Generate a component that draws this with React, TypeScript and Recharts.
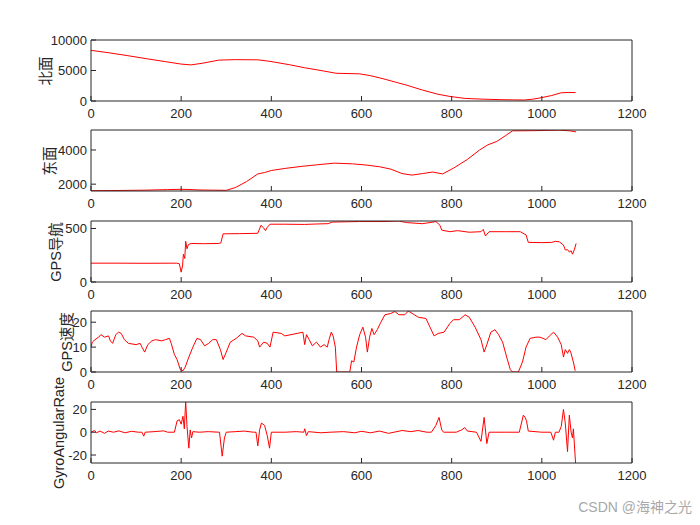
import React from 'react';
import { LineChart, Line, XAxis, YAxis } from 'recharts';

// time axis shared by all panels
const timeTicks = [0, 200, 400, 600, 800, 1000, 1200];

// [time, value] samples
const northSeries = [
  [0, 8300], [40, 7900], [80, 7450], [126, 6900], [165, 6450], [200, 6050], [222, 5920],
  [248, 6200], [283, 6700], [320, 6780], [370, 6750], [397, 6500], [440, 5950], [474, 5450],
  [510, 5000], [543, 4550], [596, 4450], [620, 4150], [648, 3650], [675, 3100], [700, 2600],
  [735, 1800], [770, 1100], [796, 750], [830, 420], [870, 300], [909, 220], [940, 180],
  [961, 160], [980, 300], [996, 500], [1022, 900], [1043, 1350], [1060, 1400], [1075, 1380],
];

const eastSeries = [
  [0, 1620], [60, 1630], [120, 1650], [170, 1680], [200, 1700], [215, 1690], [240, 1660],
  [270, 1650], [300, 1640], [320, 1800], [345, 2150], [370, 2600], [385, 2680], [400, 2800],
  [430, 2920], [470, 3050], [500, 3130], [540, 3230], [580, 3190], [610, 3120], [640, 3020],
  [665, 2880], [690, 2620], [712, 2530], [735, 2620], [758, 2710], [780, 2600], [805, 2950],
  [835, 3450], [862, 4000], [880, 4300], [900, 4500], [920, 4850], [935, 5120], [980, 5130],
  [1040, 5160], [1062, 5120], [1076, 5060],
];

const headingSeries = [
  [0, 176], [60, 176], [120, 175], [190, 176], [196, 170], [200, 92], [203, 150], [205, 260],
  [208, 220], [210, 380], [213, 310], [216, 350], [222, 360], [250, 358], [283, 360], [288, 365],
  [293, 450], [330, 452], [370, 455], [377, 530], [383, 505], [387, 480], [391, 510], [397, 540],
  [430, 540], [474, 538], [500, 542], [526, 545], [535, 560], [596, 565], [648, 565], [683, 570],
  [700, 555], [735, 545], [752, 555], [765, 565], [774, 530], [778, 485], [796, 470], [813, 480],
  [839, 465], [865, 470], [870, 492], [875, 430], [883, 470], [920, 470], [952, 470], [965, 440],
  [970, 370], [1000, 368], [1022, 370], [1030, 380], [1039, 375], [1048, 345], [1052, 300],
  [1057, 302], [1061, 280], [1065, 292], [1068, 260], [1072, 300], [1076, 360],
];

const speedSeries = [
  [0, 10], [3, 12], [9, 13], [17, 14], [22, 15], [30, 14], [39, 14.5], [43, 12.5], [48, 11.5],
  [55, 15], [61, 16], [67, 15.5], [74, 13], [83, 11.5], [100, 11], [109, 11.5], [113, 10],
  [119, 8], [126, 11], [135, 12.5], [143, 13], [157, 12.5], [165, 13], [174, 13.5], [178, 11.5],
  [185, 7], [191, 5], [198, 1], [204, 0.5], [209, 2], [217, 6], [226, 10], [235, 13.5],
  [243, 13], [252, 10.5], [261, 11.5], [270, 13], [278, 13], [287, 9], [293, 5], [300, 8],
  [309, 12], [322, 13.5], [335, 15.5], [343, 14.5], [361, 14], [370, 12.5], [374, 10], [383, 12],
  [391, 11.5], [397, 10], [404, 16], [422, 15.5], [430, 14.5], [457, 15.5], [470, 16], [474, 11],
  [478, 15], [484, 13], [491, 10.5], [500, 12], [509, 10], [517, 11], [524, 10], [528, 13],
  [533, 16], [537, 14.5], [542, 10], [545, 0], [574, 0], [578, 4.5], [583, 4], [589, 10],
  [596, 15], [603, 18], [609, 14], [613, 8], [618, 14], [623, 17.5], [628, 15], [635, 17],
  [643, 20], [652, 23], [665, 23.5], [674, 24.3], [683, 23], [696, 23], [704, 24.5], [717, 23],
  [726, 22], [743, 21.5], [752, 18], [761, 14.5], [770, 15.5], [783, 16], [796, 19.5], [804, 21],
  [817, 21], [830, 23], [839, 22], [852, 18], [865, 13], [872, 8], [878, 11], [887, 16],
  [896, 17], [904, 15], [913, 12], [922, 6], [930, 1], [935, 0], [948, 0], [957, 4], [965, 10],
  [974, 13.5], [987, 14], [996, 14], [1009, 13], [1017, 14.5], [1026, 16], [1035, 14],
  [1043, 11], [1048, 6], [1052, 9], [1057, 7.5], [1061, 9], [1064, 8], [1070, 4], [1074, 0.5],
];

const gyroSeries = [
  [0, 0], [8, 1.5], [12, -0.5], [20, 1], [30, -1], [38, 1], [50, 0], [62, 1.2], [75, -0.5],
  [90, 0.8], [105, 0], [113, 0], [117, -3.5], [120, 0], [140, 0.5], [161, 1.2], [170, 0],
  [185, 0], [191, 10], [196, 11], [200, 7], [204, 14], [207, 3], [210, 27], [213, 5],
  [217, -14], [220, 2], [223, -5], [226, 0.5], [240, 0], [260, 0.5], [285, 0], [291, -21],
  [296, -5], [300, 0], [320, 0.5], [340, 1], [360, 0], [366, 0], [370, -12], [374, 2],
  [378, 8], [385, 6], [391, -3], [396, -14], [400, 0], [430, 0], [455, 0.5], [472, 0],
  [474, 3], [478, -3], [482, 0.5], [510, -0.5], [530, 0], [560, 0.5], [585, -0.5], [600, 0.8],
  [620, -0.5], [640, 1], [660, -1], [690, 1.5], [710, 0.5], [725, 1.5], [745, 0], [755, 0],
  [765, 6], [772, 13], [778, 2], [782, 0], [810, 0], [822, 2], [829, 4], [835, 1], [855, 0],
  [865, -8], [872, 13], [878, -10], [883, 0], [920, 0], [950, 0], [959, 15], [963, 13],
  [966, 10], [970, 1], [1000, 0], [1020, 0], [1026, -7], [1030, 0], [1038, 0], [1043, 5],
  [1048, 20], [1052, 8], [1057, -17], [1061, 15], [1065, 0], [1068, -5], [1070, 3], [1075, -28],
];

const AXIS_COLOR = '#262626';
const FONT = '"Liberation Sans", Arial, "Noto Sans CJK SC", sans-serif';
const PLOT_H = 61;
const PAD_TOP = 10;
const X_AXIS_H = 30;

type PanelProps = {
  top: number;
  series: number[][];
  domain: [number, number];
  ticks: number[];
  label: string;
  labelX: number;
};

const Panel = ({ top, series, domain, ticks, label, labelX }: PanelProps) => {
  const rows = series.map(([t, v]) => ({ t, v }));
  return (
    <>
      <div style={{ position: 'absolute', left: 0, top: top - PAD_TOP }}>
        <LineChart
          width={700}
          height={PLOT_H + PAD_TOP + X_AXIS_H}
          data={rows}
          margin={{ top: PAD_TOP - 1, right: 67, bottom: 0, left: 0 }}
        >
          <XAxis
            dataKey="t"
            type="number"
            domain={[0, 1200]}
            ticks={timeTicks}
            interval={0}
            height={X_AXIS_H}
            tickSize={-5}
            tickMargin={13}
            stroke={AXIS_COLOR}
            tick={{ fill: AXIS_COLOR, fontSize: 13 }}
            allowDataOverflow
          />
          {/* top frame edge with inward ticks */}
          <XAxis
            xAxisId="top"
            orientation="top"
            dataKey="t"
            type="number"
            domain={[0, 1200]}
            ticks={timeTicks}
            interval={0}
            height={1}
            tick={false}
            tickSize={-5}
            stroke={AXIS_COLOR}
            allowDataOverflow
          />
          <YAxis
            type="number"
            domain={domain}
            ticks={ticks}
            interval={0}
            width={91}
            tickSize={-5}
            tickMargin={9}
            stroke={AXIS_COLOR}
            tick={{ fill: AXIS_COLOR, fontSize: 13 }}
            allowDataOverflow
          />
          {/* right frame edge with inward ticks */}
          <YAxis
            yAxisId="right"
            orientation="right"
            type="number"
            domain={domain}
            ticks={ticks}
            interval={0}
            width={1}
            tick={false}
            tickSize={-5}
            stroke={AXIS_COLOR}
            allowDataOverflow
          />
          <Line
            xAxisId="top"
            yAxisId="right"
            dataKey="v"
            stroke="none"
            dot={false}
            activeDot={false}
            isAnimationActive={false}
          />
          <Line
            dataKey="v"
            type="linear"
            stroke="#ff0000"
            strokeWidth={1}
            dot={false}
            isAnimationActive={false}
          />
        </LineChart>
      </div>
      <div
        style={{
          position: 'absolute',
          left: labelX,
          top: top + PLOT_H / 2,
          transform: 'translate(-50%, -50%) rotate(-90deg)',
          fontSize: 14.5,
          lineHeight: 1,
          color: AXIS_COLOR,
          whiteSpace: 'nowrap',
        }}
      >
        {label}
      </div>
    </>
  );
};

const App = () => (
  <div
    style={{
      position: 'absolute',
      left: 0,
      top: 0,
      width: 700,
      height: 525,
      background: '#ffffff',
      fontFamily: FONT,
      overflow: 'hidden',
    }}
  >
    <Panel top={40} series={northSeries} domain={[0, 10000]} ticks={[0, 5000, 10000]} label="北面" labelX={46} />
    <Panel top={130} series={eastSeries} domain={[1600, 5170]} ticks={[2000, 4000]} label="东面" labelX={50} />
    <Panel top={221} series={headingSeries} domain={[0, 570]} ticks={[0, 500]} label="GPS导航" labelX={56} />
    <Panel top={311} series={speedSeries} domain={[0, 24.5]} ticks={[0, 10, 20]} label="GPS速度" labelX={67} />
    <Panel top={402} series={gyroSeries} domain={[-27, 26.5]} ticks={[-20, 0, 20]} label="GyroAngularRate" labelX={59} />
    <div
      style={{
        position: 'absolute',
        right: 8,
        top: 496,
        fontSize: 14,
        color: '#a8a8a8',
        whiteSpace: 'nowrap',
      }}
    >
      CSDN @海神之光
    </div>
  </div>
);

export default App;
